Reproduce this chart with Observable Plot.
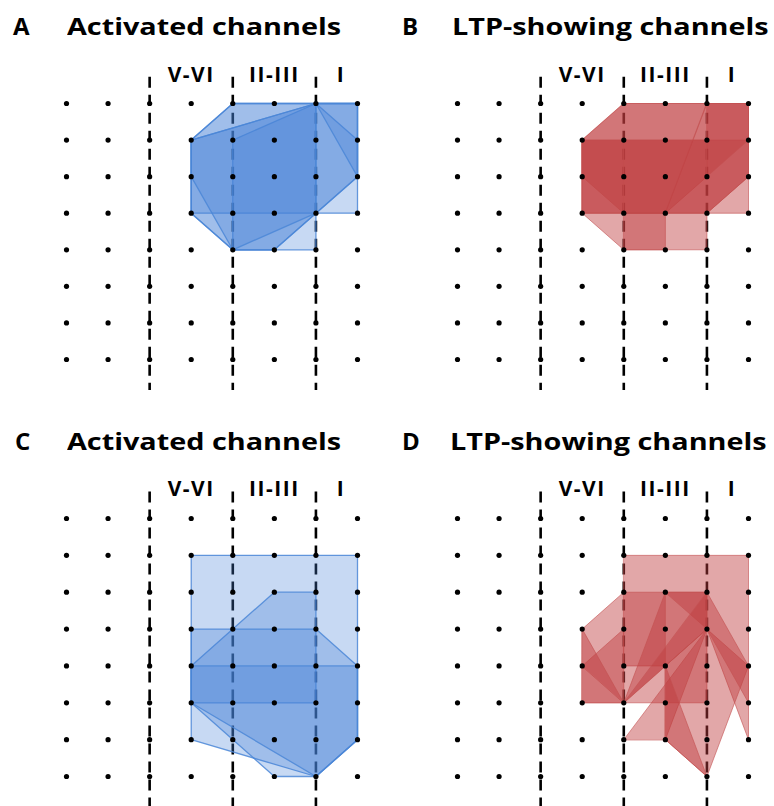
<!DOCTYPE html>
<html><head><meta charset="utf-8">
<script src="https://cdn.jsdelivr.net/npm/d3@7"></script>
<script src="https://cdn.jsdelivr.net/npm/@observablehq/plot@0.6"></script>
<style>
html,body{margin:0;padding:0;background:#fff;overflow:hidden;width:774px;height:806px;}
.panel{position:absolute;width:387px;height:400px;}
.title{position:absolute;top:14px;font-family:"Open Sans",sans-serif;font-weight:700;font-size:24px;line-height:24px;white-space:nowrap;color:#000;}
.name{transform:scaleX(1.2);transform-origin:left center;}
.plot{position:absolute;top:50px;left:0;}
</style></head><body>
<script>
// grid of electrode channels (columns x rows)
const cols = [0,1,2,3,4,5,6,7];
const rows = [0,1,2,3,4,5,6,7];
// cortical layer boundaries and labels
const boundaryCols = [2,4,6];
const layerLabels = ["V-VI","II-III","I"];
const layerLabelCols = [3,5,6.6];
const panelLetters = ["A","B","C","D"];
const panelTitles = ["Activated channels","LTP-showing channels","Activated channels","LTP-showing channels"];

// polygons of channel sets, vertices as [column, row]
const polysA = [
  [[4,0],[7,0],[7,3],[6,3],[6,4],[4,4],[3,3],[3,1]],
  [[3,1],[6,0],[7,0],[7,2],[6,3],[5,4],[4,4],[3,3]],
  [[4,0],[6,0],[7,1],[7,2],[6,3],[3,3],[3,1]],
  [[6,0],[4,1],[4,4],[5,4],[6,3]],
  [[6,0],[7,0],[7,2]],
  [[3,1],[6,0],[6,3],[4,4],[3,2]]
];
const polysB = [
  [[4,0],[7,0],[7,3],[6,3],[6,4],[4,4],[3,3],[3,1]],
  [[3,1],[4,0],[6,0],[5,3],[4,3],[3,3]],
  [[3,1],[6,1],[6,2],[5,3],[4,3],[3,2]],
  [[6,0],[7,0],[7,2],[6,3],[5,3]],
  [[4,1],[7,1],[7,2],[6,3],[4,3]],
  [[4,3],[5,3],[5,4],[4,4]],
  [[6,0],[7,0],[7,1],[6,2]],
  [[3,1],[4,1],[4,3],[3,3]]
];
const polysC = [
  [[3,1],[7,1],[7,6],[6,7],[3,6]],
  [[3,4],[5,2],[6,2],[6,5],[3,5]],
  [[3,3],[6,3],[7,4],[7,6],[6,7],[5,7],[3,5]],
  [[3,4],[7,4],[7,6],[6,7],[3,5]]
];
const polysD = [
  [[4,1],[7,1],[7,6],[6,3],[5,4],[4,4]],
  [[3,3],[4,2],[6,2],[6,5],[3,5]],
  [[3,4],[4,3],[4,5]],
  [[3,3],[4,5],[3,5]],
  [[4,5],[5,2],[5,4]],
  [[4,6],[6,3],[5,6]],
  [[5,4],[6,3],[7,4],[6,7],[5,6]],
  [[5,2],[6,2],[7,4],[7,5],[6,3]],
  [[4,5],[5,4],[6,3],[6,2]],
  [[5,4],[6,7],[5,6]]
];

const panelPolys = [polysA, polysB, polysC, polysD];
const panelPos = [[0,0],[391,0],[0,415],[391,415]];
const letterLeft = [13,11,15,11];
const nameLeft = [67,61,67,59];
const isBlue = [true,false,true,false];

function flat(polys){ return polys.flatMap((p,id)=>p.map(([c,r])=>({id,c,r}))); }
const gridPts = rows.flatMap(r=>cols.map(c=>({c,r})));
const labelData = layerLabels.map((t,i)=>({t, c: layerLabelCols[i]}));

panelPolys.forEach((polys,i)=>{
  const div = document.createElement("div");
  div.className = "panel";
  div.style.left = panelPos[i][0]+"px";
  div.style.top = panelPos[i][1]+"px";
  const l = document.createElement("div");
  l.className = "title"; l.style.left = letterLeft[i]+"px"; l.textContent = panelLetters[i];
  const n = document.createElement("div");
  n.className = "title name"; n.style.left = nameLeft[i]+"px"; n.textContent = panelTitles[i];
  div.appendChild(l); div.appendChild(n);
  const blue = isBlue[i];
  const chart = Plot.plot({
    width: 387, height: 350,
    marginLeft: 66, marginRight: 30, marginTop: 53, marginBottom: i < 2 ? 41 : 39,
    x: {domain:[0,7], axis:null},
    y: {domain:[0,7], reverse:true, axis:null},
    style: {fontFamily:"Open Sans", letterSpacing:"1.5px", background:"transparent", overflow:"visible"},
    marks: [
      Plot.ruleX(boundaryCols, {x: d=>d, y1: -0.72, y2: 7.85, stroke:"#000", strokeWidth:2.6, strokeDasharray:"11,7"}),
      Plot.line(flat(polys), {x:"c", y:"r", z:"id", curve:"linear-closed",
        fill: blue ? "rgb(70,130,215)" : "rgb(190,60,62)",
        fillOpacity: blue ? 0.3 : 0.45,
        stroke: blue ? "rgb(75,135,215)" : "rgb(195,80,80)",
        strokeWidth: blue ? 1.3 : 1, strokeOpacity: blue ? 0.85 : 0.6}),
      Plot.dot(gridPts, {x:"c", y:"r", r:2.6, fill:"#000", stroke:"none"}),
      Plot.text(labelData, {x:"c", y: -0.78, text:"t", fontSize:21, fontWeight:700, fill:"#000", lineAnchor:"middle"})
    ]
  });
  chart.classList.add("plot");
  div.appendChild(chart);
  document.body.appendChild(div);
});
</script>
</body></html>
